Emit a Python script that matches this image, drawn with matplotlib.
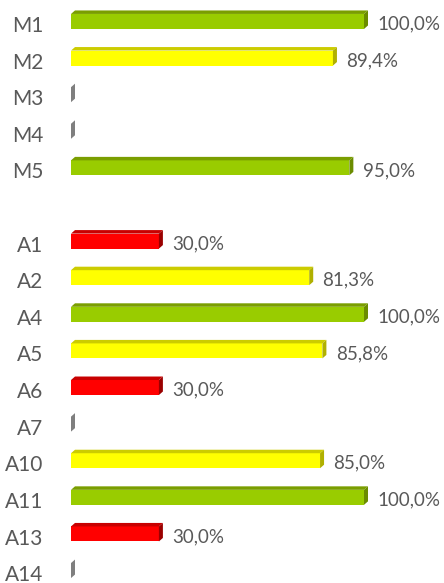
import numpy as np
import matplotlib
matplotlib.use("Agg")
import matplotlib.pyplot as plt
from matplotlib.patches import Polygon

# data (None = empty spacer row)
labels = ["M1", "M2", "M3", "M4", "M5", "", "A1", "A2", "A4", "A5", "A6", "A7", "A10", "A11", "A13", "A14"]
values = [100.0, 89.4, 0.0, 0.0, 95.0, None, 30.0, 81.3, 100.0, 85.8, 30.0, 0.0, 85.0, 100.0, 30.0, 0.0]

plt.rcParams['font.family'] = ['Lato', 'DejaVu Sans']
text_col = '#595959'


def bar_colors(v):
    # face, top, side
    if v == 0:
        return '#8c8c8c', '#8c8c8c', '#7f7f7f'
    if v >= 95:
        return '#99cc00', '#7a9e00', '#6b8c00'
    if v >= 50:
        return '#ffff00', '#cccc00', '#b0b000'
    return '#ff0000', '#c80000', '#9a0000'


fig = plt.figure(figsize=(4.44, 5.83), dpi=100)
ax = fig.add_axes([71 / 444, 0, 373 / 444, 1])
ax.set_xlim(0, 373 / 2.93)
ax.set_ylim(15.27, -0.656)

h = 0.41          # face height
off = -0.07       # face centre relative to label
dx = 4 / 2.93     # depth in x
dy = 3.5 / 36.6   # depth in y

ypos = np.arange(len(labels))
for y, v in zip(ypos, values):
    if v is None:
        continue
    face, top, side = bar_colors(v)
    yc = y + off
    y0, y1 = yc - h / 2, yc + h / 2
    if v > 0:
        ax.barh(yc, v, height=h, color=face, edgecolor='none')
        ax.add_patch(Polygon([(0, y0), (v, y0), (v + dx, y0 - dy), (dx, y0 - dy)],
                             closed=True, facecolor=top, edgecolor='none'))
        ax.text(v + dx + 3.2, y + 0.0, f"{v:.1f}%".replace('.', ','),
                va='center', ha='left', fontsize=13.5, color=text_col)
    ax.add_patch(Polygon([(v, y0), (v, y1), (v + dx, y1 - dy), (v + dx, y0 - dy)],
                         closed=True, facecolor=side, edgecolor='none'))

ax.set_yticks(ypos)
ax.set_yticklabels(labels, fontsize=15, color=text_col)
ax.tick_params(axis='y', length=0, pad=20)
ax.set_xticks([])
for s in ax.spines.values():
    s.set_visible(False)

fig.savefig("out.png", dpi=100)
